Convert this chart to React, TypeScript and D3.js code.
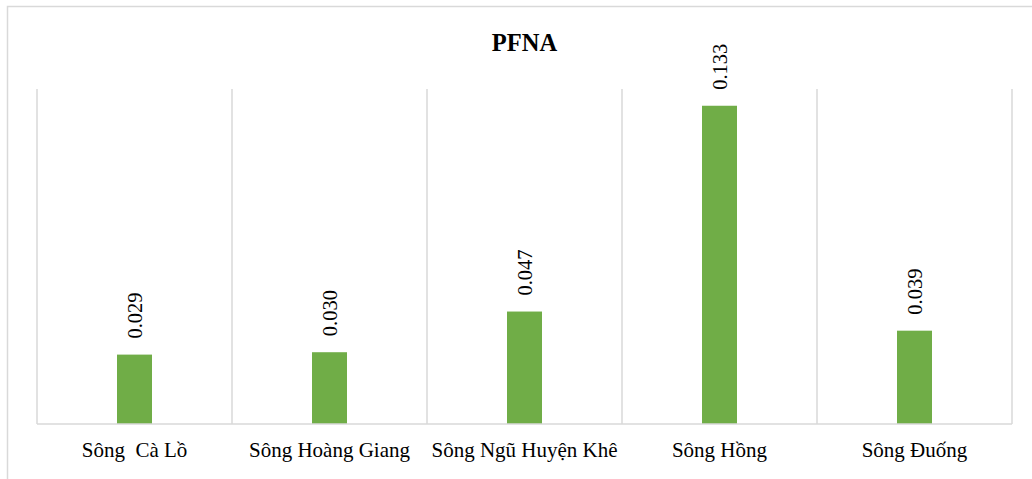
import React from "react";
import * as d3 from "d3";

const categories = ["Sông  Cà Lồ", "Sông Hoàng Giang", "Sông Ngũ Huyện Khê", "Sông Hồng", "Sông Đuống"];
const values = [0.029, 0.03, 0.047, 0.133, 0.039];
const valueLabels = ["0.029", "0.030", "0.047", "0.133", "0.039"];
const title = "PFNA";

export default function App() {
  const W = 1032, H = 479;
  const left = 37, right = 1012, top = 89, bottom = 424;
  const x = d3.scaleBand<string>().domain(categories).range([left, right]).paddingInner(0).paddingOuter(0);
  const y = d3.scaleLinear().domain([0, 0.14]).range([bottom, top]);
  const barW = 35;
  const font = "Liberation Serif, Times New Roman, serif";
  const grid = "#d9d9d9";
  const bounds = [...categories.map((c) => x(c)!), right];
  return (
    <svg width={W} height={H} style={{ position: "absolute", left: 0, top: 0, background: "#fff", fontFamily: font }}>
      <rect x={7.5} y={6.5} width={1100} height={600} fill="#fff" stroke={grid} strokeWidth={1.5} />
      <text x={(left + right) / 2} y={51} textAnchor="middle" style={{ fontFamily: font }} fontWeight="bold" fontSize={24.5}>
        {title}
      </text>
      {bounds.map((b, i) => (
        <line key={i} x1={b} x2={b} y1={top} y2={bottom} stroke={grid} strokeWidth={1.5} />
      ))}
      {categories.map((c, i) => {
        const cx = x(c)! + x.bandwidth() / 2;
        const yt = y(values[i]);
        return (
          <g key={c}>
            <rect x={cx - barW / 2} y={yt} width={barW} height={bottom - yt} fill="#70ad47" />
            <text
              transform={`translate(${cx},${yt - 16}) rotate(-90)`}
              dy="0.35em"
              style={{ fontFamily: font }}
              fontSize={20.5}
              fill="#000"
            >
              {valueLabels[i]}
            </text>
            <text x={cx} y={457} textAnchor="middle" fontSize={21} fill="#000" style={{ whiteSpace: "pre", fontFamily: font }}>
              {c}
            </text>
          </g>
        );
      })}
      <line x1={left} x2={right} y1={bottom} y2={bottom} stroke={grid} strokeWidth={1.5} />
    </svg>
  );
}
